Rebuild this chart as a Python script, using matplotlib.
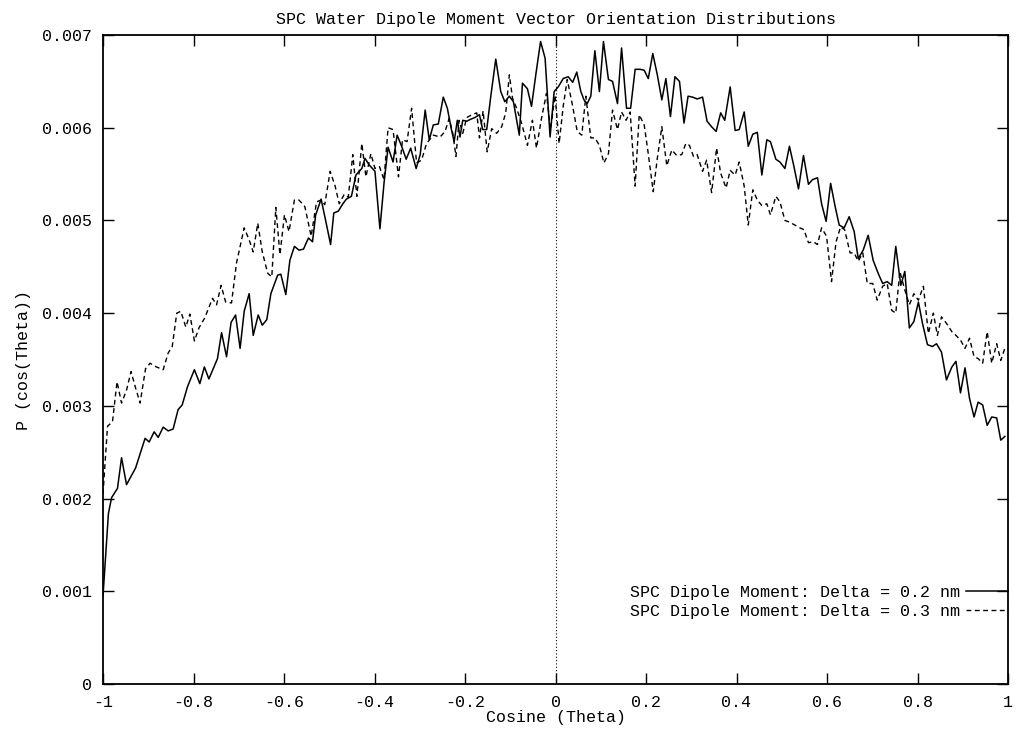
import matplotlib
matplotlib.use("Agg")
import matplotlib.pyplot as plt
from matplotlib.ticker import FixedLocator

# Orientation distribution, Delta = 0.2 nm
cos_02 = [-1.000, -0.988, -0.981, -0.968, -0.959, -0.948, -0.928, -0.907, -0.898, -0.887,
          -0.878, -0.867, -0.856, -0.845, -0.834, -0.825, -0.813, -0.798, -0.786, -0.776,
          -0.766, -0.747, -0.738, -0.727, -0.717, -0.707, -0.697, -0.688, -0.677, -0.668,
          -0.657, -0.648, -0.638, -0.629, -0.614, -0.607, -0.596, -0.587, -0.577, -0.567,
          -0.557, -0.546, -0.537, -0.530, -0.518, -0.508, -0.497, -0.490, -0.480, -0.470,
          -0.462, -0.451, -0.441, -0.428, -0.421, -0.412, -0.399, -0.388, -0.379, -0.370,
          -0.359, -0.350, -0.340, -0.330, -0.320, -0.308, -0.299, -0.288, -0.279, -0.270,
          -0.259, -0.248, -0.239, -0.230, -0.224, -0.217, -0.211, -0.205, -0.196, -0.188,
          -0.178, -0.168, -0.161, -0.152, -0.143, -0.132, -0.121, -0.112, -0.102, -0.093,
          -0.080, -0.073, -0.062, -0.053, -0.043, -0.033, -0.023, -0.012, -0.003, 0.006,
          0.017, 0.028, 0.038, 0.047, 0.056, 0.063, 0.070, 0.078, 0.087, 0.097,
          0.106, 0.117, 0.126, 0.137, 0.146, 0.157, 0.166, 0.176, 0.187, 0.196,
          0.205, 0.215, 0.225, 0.235, 0.244, 0.254, 0.264, 0.274, 0.284, 0.293,
          0.303, 0.313, 0.325, 0.335, 0.345, 0.355, 0.365, 0.374, 0.386, 0.397,
          0.406, 0.417, 0.426, 0.436, 0.446, 0.456, 0.467, 0.475, 0.487, 0.496,
          0.507, 0.517, 0.527, 0.537, 0.548, 0.559, 0.568, 0.579, 0.588, 0.598,
          0.608, 0.618, 0.627, 0.638, 0.649, 0.660, 0.669, 0.680, 0.691, 0.702,
          0.713, 0.723, 0.733, 0.743, 0.752, 0.763, 0.772, 0.782, 0.792, 0.802,
          0.811, 0.822, 0.833, 0.842, 0.853, 0.864, 0.876, 0.885, 0.895, 0.905,
          0.915, 0.925, 0.934, 0.944, 0.954, 0.964, 0.975, 0.984, 0.993]
p_02 = [0.00095, 0.00184, 0.00201, 0.00211, 0.00244, 0.00215, 0.00233, 0.00265, 0.00261, 0.00272,
        0.00266, 0.00277, 0.00273, 0.00275, 0.00296, 0.00301, 0.00321, 0.00339, 0.00324, 0.00342,
        0.00329, 0.00351, 0.00379, 0.00353, 0.00390, 0.00398, 0.00362, 0.00402, 0.00421, 0.00376,
        0.00398, 0.00387, 0.00393, 0.00421, 0.00441, 0.00442, 0.00420, 0.00457, 0.00472, 0.00468,
        0.00469, 0.00481, 0.00477, 0.00506, 0.00523, 0.00500, 0.00474, 0.00508, 0.00510, 0.00518,
        0.00523, 0.00526, 0.00549, 0.00556, 0.00567, 0.00560, 0.00553, 0.00491, 0.00540, 0.00579,
        0.00563, 0.00592, 0.00580, 0.00566, 0.00578, 0.00556, 0.00571, 0.00619, 0.00587, 0.00603,
        0.00604, 0.00633, 0.00621, 0.00598, 0.00585, 0.00608, 0.00590, 0.00608, 0.00607, 0.00609,
        0.00611, 0.00614, 0.00598, 0.00598, 0.00634, 0.00674, 0.00639, 0.00628, 0.00634, 0.00628,
        0.00592, 0.00648, 0.00642, 0.00623, 0.00659, 0.00693, 0.00675, 0.00590, 0.00639, 0.00644,
        0.00653, 0.00655, 0.00649, 0.00660, 0.00639, 0.00630, 0.00626, 0.00634, 0.00683, 0.00639,
        0.00693, 0.00652, 0.00650, 0.00626, 0.00686, 0.00621, 0.00621, 0.00663, 0.00663, 0.00662,
        0.00653, 0.00680, 0.00657, 0.00630, 0.00653, 0.00612, 0.00655, 0.00650, 0.00605, 0.00634,
        0.00633, 0.00631, 0.00633, 0.00607, 0.00601, 0.00596, 0.00616, 0.00608, 0.00644, 0.00597,
        0.00598, 0.00617, 0.00580, 0.00593, 0.00595, 0.00549, 0.00587, 0.00585, 0.00566, 0.00563,
        0.00556, 0.00580, 0.00558, 0.00534, 0.00570, 0.00539, 0.00544, 0.00546, 0.00518, 0.00499,
        0.00540, 0.00515, 0.00495, 0.00492, 0.00504, 0.00488, 0.00459, 0.00468, 0.00484, 0.00457,
        0.00443, 0.00432, 0.00434, 0.00430, 0.00472, 0.00430, 0.00445, 0.00384, 0.00391, 0.00412,
        0.00389, 0.00366, 0.00364, 0.00367, 0.00358, 0.00328, 0.00342, 0.00348, 0.00314, 0.00341,
        0.00308, 0.00288, 0.00304, 0.00301, 0.00279, 0.00288, 0.00287, 0.00263, 0.00267]

# Orientation distribution, Delta = 0.3 nm
cos_03 = [-1.000, -0.990, -0.979, -0.969, -0.959, -0.948, -0.938, -0.929, -0.918, -0.906,
          -0.896, -0.882, -0.867, -0.856, -0.847, -0.837, -0.828, -0.817, -0.808, -0.798,
          -0.788, -0.775, -0.758, -0.749, -0.739, -0.729, -0.716, -0.705, -0.688, -0.677,
          -0.668, -0.658, -0.648, -0.636, -0.627, -0.618, -0.609, -0.599, -0.589, -0.577,
          -0.567, -0.554, -0.540, -0.528, -0.518, -0.510, -0.498, -0.487, -0.478, -0.467,
          -0.458, -0.448, -0.439, -0.428, -0.419, -0.408, -0.399, -0.389, -0.379, -0.370,
          -0.359, -0.347, -0.338, -0.328, -0.318, -0.307, -0.296, -0.285, -0.270, -0.255,
          -0.244, -0.235, -0.227, -0.220, -0.213, -0.205, -0.196, -0.185, -0.174, -0.168,
          -0.160, -0.151, -0.141, -0.130, -0.119, -0.110, -0.102, -0.095, -0.086, -0.075,
          -0.062, -0.051, -0.042, -0.031, -0.020, -0.011, -0.001, 0.008, 0.017, 0.026,
          0.038, 0.048, 0.058, 0.067, 0.078, 0.087, 0.097, 0.107, 0.117, 0.126,
          0.137, 0.146, 0.156, 0.165, 0.176, 0.185, 0.196, 0.205, 0.216, 0.225,
          0.235, 0.246, 0.257, 0.268, 0.279, 0.288, 0.296, 0.305, 0.313, 0.325,
          0.334, 0.345, 0.356, 0.365, 0.377, 0.386, 0.397, 0.406, 0.417, 0.426,
          0.436, 0.446, 0.456, 0.467, 0.475, 0.487, 0.496, 0.507, 0.518, 0.529,
          0.540, 0.549, 0.559, 0.570, 0.579, 0.588, 0.599, 0.610, 0.620, 0.630,
          0.639, 0.651, 0.660, 0.669, 0.679, 0.689, 0.701, 0.711, 0.723, 0.733,
          0.743, 0.752, 0.761, 0.772, 0.782, 0.792, 0.802, 0.813, 0.824, 0.835,
          0.844, 0.853, 0.864, 0.876, 0.885, 0.895, 0.905, 0.915, 0.925, 0.934,
          0.944, 0.954, 0.964, 0.975, 0.984, 0.993]
p_03 = [0.00205, 0.00278, 0.00283, 0.00326, 0.00303, 0.00317, 0.00337, 0.00321, 0.00303, 0.00340,
        0.00346, 0.00342, 0.00339, 0.00357, 0.00364, 0.00400, 0.00402, 0.00385, 0.00399, 0.00370,
        0.00384, 0.00395, 0.00416, 0.00409, 0.00430, 0.00412, 0.00411, 0.00454, 0.00492, 0.00479,
        0.00466, 0.00497, 0.00466, 0.00443, 0.00439, 0.00514, 0.00463, 0.00506, 0.00488, 0.00522,
        0.00522, 0.00515, 0.00483, 0.00520, 0.00522, 0.00517, 0.00553, 0.00537, 0.00518, 0.00528,
        0.00525, 0.00571, 0.00526, 0.00583, 0.00547, 0.00572, 0.00556, 0.00558, 0.00544, 0.00600,
        0.00598, 0.00547, 0.00587, 0.00585, 0.00621, 0.00562, 0.00565, 0.00583, 0.00592, 0.00590,
        0.00596, 0.00610, 0.00594, 0.00569, 0.00608, 0.00594, 0.00611, 0.00614, 0.00616, 0.00589,
        0.00618, 0.00574, 0.00599, 0.00594, 0.00601, 0.00616, 0.00657, 0.00632, 0.00621, 0.00605,
        0.00581, 0.00608, 0.00578, 0.00610, 0.00637, 0.00598, 0.00635, 0.00583, 0.00623, 0.00652,
        0.00623, 0.00596, 0.00592, 0.00634, 0.00589, 0.00589, 0.00581, 0.00562, 0.00572, 0.00619,
        0.00598, 0.00617, 0.00608, 0.00617, 0.00537, 0.00614, 0.00603, 0.00572, 0.00531, 0.00567,
        0.00601, 0.00559, 0.00576, 0.00570, 0.00571, 0.00583, 0.00581, 0.00569, 0.00571, 0.00553,
        0.00565, 0.00530, 0.00578, 0.00551, 0.00535, 0.00554, 0.00549, 0.00563, 0.00537, 0.00495,
        0.00533, 0.00522, 0.00516, 0.00518, 0.00506, 0.00526, 0.00520, 0.00500, 0.00498, 0.00495,
        0.00492, 0.00490, 0.00476, 0.00477, 0.00474, 0.00492, 0.00483, 0.00434, 0.00477, 0.00493,
        0.00490, 0.00465, 0.00465, 0.00456, 0.00465, 0.00432, 0.00432, 0.00414, 0.00429, 0.00432,
        0.00403, 0.00400, 0.00445, 0.00425, 0.00409, 0.00421, 0.00414, 0.00429, 0.00378, 0.00400,
        0.00376, 0.00396, 0.00389, 0.00380, 0.00376, 0.00371, 0.00362, 0.00373, 0.00353, 0.00351,
        0.00346, 0.00380, 0.00346, 0.00367, 0.00349, 0.00362]

label_02 = "SPC Dipole Moment: Delta = 0.2 nm"
label_03 = "SPC Dipole Moment: Delta = 0.3 nm"

x_ticks = [-1, -0.8, -0.6, -0.4, -0.2, 0, 0.2, 0.4, 0.6, 0.8, 1]
x_tick_labels = ["-1", "-0.8", "-0.6", "-0.4", "-0.2", "0", "0.2", "0.4", "0.6", "0.8", "1"]
y_ticks = [0, 0.001, 0.002, 0.003, 0.004, 0.005, 0.006, 0.007]
y_tick_labels = ["0", "0.001", "0.002", "0.003", "0.004", "0.005", "0.006", "0.007"]

plt.rcParams["font.family"] = ["Liberation Mono", "DejaVu Sans Mono"]
plt.rcParams["font.size"] = 12

fig = plt.figure(figsize=(10.16, 7.30), dpi=100)
ax = fig.add_axes([103 / 1016, 46 / 730, 905 / 1016, 649 / 730])

ax.plot(cos_02, p_02, color="black", lw=1.1, label=label_02)
ax.plot(cos_03, p_03, color="black", lw=1.0, linestyle=(0, (3.5, 2.5)), label=label_03)
ax.axvline(0, color="black", lw=0.8, linestyle=(0, (1, 2)))

ax.set_xlim(-1, 1)
ax.set_ylim(0, 0.007)
ax.xaxis.set_major_locator(FixedLocator(x_ticks))
ax.set_xticklabels(x_tick_labels)
ax.yaxis.set_major_locator(FixedLocator(y_ticks))
ax.set_yticklabels(y_tick_labels)
ax.tick_params(direction="in", length=8, width=1.0, top=True, right=True,
               labeltop=False, labelright=False, pad=8, labelsize=12)
for spine in ax.spines.values():
    spine.set_linewidth(1.3)

ax.set_title("SPC Water Dipole Moment Vector Orientation Distributions", fontsize=12, pad=8)
ax.set_xlabel("Cosine (Theta)", fontsize=12, labelpad=0)
ax.set_ylabel("P (cos(Theta))", fontsize=12, labelpad=8)

ax.legend(loc="lower right", bbox_to_anchor=(1.0, 0.1), frameon=False, markerfirst=False,
          handlelength=2.5, handletextpad=0.4, labelspacing=0.25, borderaxespad=0.0,
          borderpad=0.0, fontsize=12)

fig.savefig("out.png", dpi=100)
